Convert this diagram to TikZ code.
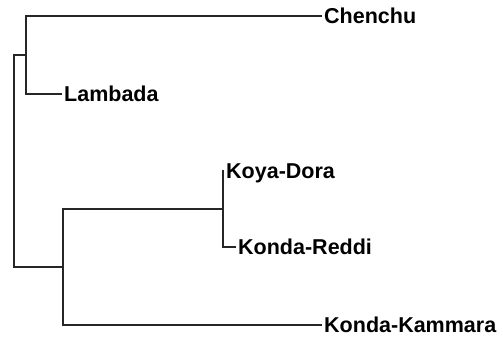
\documentclass[tikz,border=0pt]{standalone}
\usepackage{fontspec}
\setmainfont{Liberation Sans}
\usepackage{tikz}
\tikzstyle{leaf}=[anchor=west, inner sep=2pt, text height=15.4pt, text depth=0pt, font=\bfseries\fontsize{21.5}{25}\selectfont]
\tikzstyle{branch}=[line width=2.2pt, black!85]

\begin{document}
\begin{tikzpicture}[x=1pt, y=-1pt]
                    \useasboundingbox (0,0) rectangle (503,337);
                    \coordinate (r) at (14, 160.5);
                    \coordinate (a) at (26, 55);
                    \coordinate (b) at (63, 267);
                    \coordinate (c) at (223, 209);
                    \node[leaf] (l1) at (322, 16) {Chenchu};
                    \node[leaf] (l2) at (62, 94) {Lambada};
                    \node[leaf] (l3) at (224, 171) {Koya-Dora};
                    \node[leaf] (l4) at (236, 247) {Konda-Reddi};
                    \node[leaf] (l5) at (322, 325) {Konda-Kammara};
                    \draw[branch]  (r) |- (a);
                    \draw[branch]  (r) |- (b);
                    \draw[branch]  (a) |- (l1.west);
                    \draw[branch]  (a) |- (l2.west);
                    \draw[branch]  (b) |- (c);
                    \draw[branch]  (b) |- (l5.west);
                    \draw[branch]  (c) |- (l3.west);
                    \draw[branch]  (c) |- (l4.west);
                \end{tikzpicture}
\end{document}
